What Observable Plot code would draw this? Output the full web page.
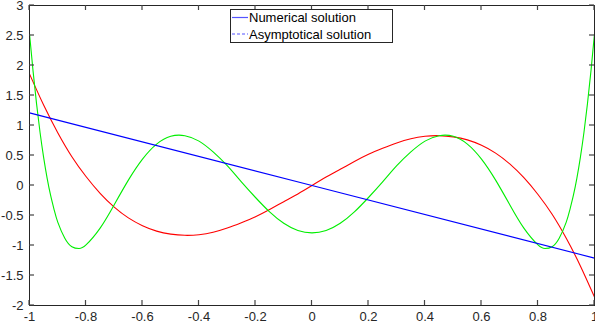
<!DOCTYPE html>
<html>
<head>
<meta charset="utf-8">
<script src="https://cdn.jsdelivr.net/npm/d3@7"></script>
<script src="https://cdn.jsdelivr.net/npm/@observablehq/plot@0.6"></script>
<style>
  html, body { margin: 0; padding: 0; background: #fff; }
  #chart svg { display: block; }
</style>
</head>
<body>
<div id="chart"></div>
<script>
const xTicks = [-1, -0.8, -0.6, -0.4, -0.2, 0, 0.2, 0.4, 0.6, 0.8, 1];
const xTickLabels = ["-1", "-0.8", "-0.6", "-0.4", "-0.2", "0", "0.2", "0.4", "0.6", "0.8", "1"];
const yTicks = [-2, -1.5, -1, -0.5, 0, 0.5, 1, 1.5, 2, 2.5, 3];
const yTickLabels = ["-2", "-1.5", "-1", "-0.5", "0", "0.5", "1", "1.5", "2", "2.5", "3"];

const legendLabels = ["Numerical solution", "Asymptotical solution"];

// blue straight line
const blueX = [-1, 0, 1];
const blueY = [1.21, 0, -1.21];

// red curve
const redX = [-1, -0.95, -0.9, -0.85, -0.8, -0.75, -0.7, -0.65, -0.6, -0.55, -0.5, -0.45, -0.4, -0.35, -0.3, -0.25, -0.2, -0.15, -0.1, -0.05, 0,
  0.05, 0.1, 0.15, 0.2, 0.25, 0.3, 0.35, 0.4, 0.45, 0.5, 0.55, 0.6, 0.65, 0.7, 0.75, 0.8, 0.85, 0.9, 0.95, 1];
const redY = [1.86, 1.34, 0.88, 0.48, 0.15, -0.13, -0.36, -0.54, -0.67, -0.76, -0.81, -0.83, -0.82, -0.78, -0.71, -0.62, -0.52, -0.40, -0.27, -0.14, 0,
  0.14, 0.27, 0.40, 0.52, 0.62, 0.71, 0.78, 0.82, 0.83, 0.81, 0.76, 0.67, 0.54, 0.36, 0.13, -0.15, -0.48, -0.88, -1.34, -1.86];

// green curve
const greenX = [-1, -0.9875, -0.975, -0.9625, -0.95, -0.9375, -0.925, -0.9125, -0.9, -0.875, -0.85, -0.825, -0.8, -0.75, -0.7, -0.65, -0.6, -0.55, -0.5, -0.45, -0.4, -0.35, -0.3, -0.25, -0.2, -0.15, -0.1, -0.05, 0,
  0.05, 0.1, 0.15, 0.2, 0.25, 0.3, 0.35, 0.4, 0.45, 0.5, 0.55, 0.6, 0.65, 0.7, 0.75, 0.8, 0.825, 0.85, 0.875, 0.9, 0.9125, 0.925, 0.9375, 0.95, 0.9625, 0.975, 0.9875, 1];
const greenY = [2.53, 1.91, 1.36, 0.88, 0.47, 0.12, -0.17, -0.41, -0.61, -0.88, -1.02, -1.05, -0.99, -0.71, -0.32, 0.09, 0.44, 0.69, 0.82, 0.83, 0.74, 0.56, 0.33, 0.06, -0.20, -0.44, -0.63, -0.75, -0.79,
  -0.75, -0.63, -0.44, -0.20, 0.06, 0.33, 0.56, 0.74, 0.83, 0.82, 0.69, 0.44, 0.09, -0.32, -0.71, -0.99, -1.05, -1.02, -0.88, -0.61, -0.41, -0.17, 0.12, 0.47, 0.88, 1.36, 1.91, 2.53];

const toPts = (xs, ys) => xs.map((x, i) => ({x, y: ys[i]}));
const blue = toPts(blueX, blueY);
const red = toPts(redX, redY);
const green = toPts(greenX, greenY);

const W = 595, H = 322;
const mL = 29, mR = 1, mT = 5, mB = 17;
const tick = 5;
const font = "'Liberation Sans', Arial, Helvetica, sans-serif";
const axisColor = "#262626";

const chart = Plot.plot({
  width: W,
  height: H,
  marginLeft: mL,
  marginRight: mR,
  marginTop: mT,
  marginBottom: mB,
  style: {fontFamily: font, fontSize: "13px", color: axisColor, background: "#fff"},
  x: {domain: [-1, 1], axis: null},
  y: {domain: [-2, 3], axis: null},
  marks: [
    Plot.line(red, {x: "x", y: "y", stroke: "#ff0000", strokeWidth: 1.1, curve: "natural"}),
    Plot.line(green, {x: "x", y: "y", stroke: "#00ee00", strokeWidth: 1.1, curve: "natural"}),
    Plot.line(blue, {x: "x", y: "y", stroke: "#0000ff", strokeWidth: 1.1}),
    Plot.frame({stroke: axisColor}),
    Plot.axisX({anchor: "bottom", ticks: xTicks, tickSize: 0, tickPadding: 6, label: null, tickFormat: (d, i) => xTickLabels[i], fontSize: 13, fill: axisColor}),
    Plot.axisY({anchor: "left", ticks: yTicks, tickSize: 0, tickPadding: 6, label: null, tickFormat: (d, i) => yTickLabels[i], fontSize: 13, fill: axisColor})
  ]
});

document.getElementById("chart").appendChild(chart);

const svg = d3.select(chart);

// inward ticks on all four sides, positioned through Plot's own scales
const sx = chart.scale("x"), sy = chart.scale("y");
const x0 = mL, x1 = W - mR, y0 = mT, y1 = H - mB;
const tg = svg.append("g");
const addTick = (a, b, c, d) => tg.append("line")
  .attr("x1", a).attr("y1", b).attr("x2", c).attr("y2", d)
  .style("stroke", "#444").style("stroke-width", "1.2px");
xTicks.forEach(v => {
  const px = sx.apply(v);
  addTick(px, y1, px, y1 - tick);
  addTick(px, y0, px, y0 + tick);
});
yTicks.forEach(v => {
  const py = sy.apply(v);
  addTick(x0, py, x0 + tick, py);
  addTick(x1, py, x1 - tick, py);
});

// legend box (Octave style) drawn inside the SVG
const lg = svg.append("g").attr("font-family", font).attr("font-size", 13).attr("text-anchor", "start");
lg.append("rect").attr("x", 230.5).attr("y", 9.5).attr("width", 162).attr("height", 33)
  .style("fill", "#fff").style("stroke", axisColor).style("stroke-width", "1px");
legendLabels.forEach((label, i) => {
  const cy = 17.5 + i * 16.5;
  const ln = lg.append("line").attr("x1", 232).attr("x2", 248).attr("y1", cy).attr("y2", cy)
    .style("stroke", "#5555ff").style("stroke-width", "1.2px");
  if (i === 1) ln.style("stroke-dasharray", "3,2");
  lg.append("text").attr("x", 249).attr("y", cy + 4.7).attr("text-anchor", "start").style("fill", "#000").text(label);
});
</script>
</body>
</html>
